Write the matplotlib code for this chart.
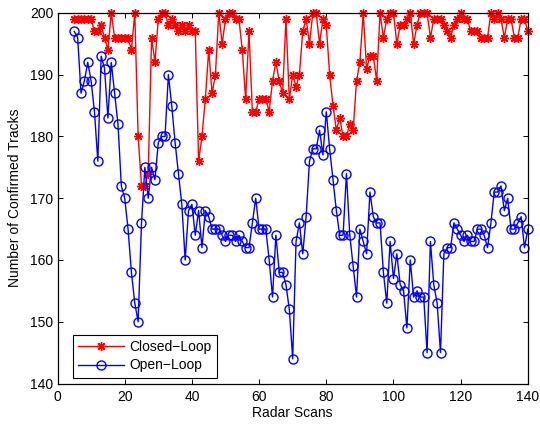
import numpy as np
import matplotlib
matplotlib.use("Agg")
import matplotlib.pyplot as plt

# radar scan index, one sample per scan
scans = np.arange(5, 141)

closed_loop = [
    199, 199, 199, 199, 199, 199, 197, 197, 198, 196,
    194, 200, 196, 196, 196, 196, 196, 194, 200, 180,
    172, 172, 174, 196, 192, 199, 200, 200, 198, 199,
    198, 197, 198, 197, 198, 197, 197, 176, 180, 186,
    194, 187, 190, 200, 195, 199, 200, 200, 199, 199,
    194, 186, 197, 184, 184, 186, 186, 186, 184, 189,
    192, 189, 187, 199, 186, 190, 188, 190, 197, 199,
    195, 200, 200, 195, 199, 198, 190, 185, 181, 183,
    180, 180, 182, 181, 189, 192, 200, 191, 193, 193,
    189, 200, 196, 199, 200, 200, 195, 198, 198, 199,
    200, 195, 198, 200, 200, 200, 196, 199, 199, 199,
    198, 197, 196, 198, 199, 200, 199, 199, 197, 197,
    197, 196, 196, 196, 200, 199, 200, 199, 196, 199,
    199, 196, 196, 199, 199, 197,
]

open_loop = [
    197, 196, 187, 189, 192, 189, 184, 176, 193, 191,
    183, 192, 187, 182, 172, 170, 165, 158, 153, 150,
    166, 175, 170, 175, 173, 179, 180, 180, 190, 185,
    179, 174, 169, 160, 168, 169, 164, 168, 162, 168,
    167, 165, 165, 165, 164, 163, 164, 164, 163, 164,
    163, 162, 162, 166, 170, 165, 165, 165, 160, 154,
    164, 158, 158, 156, 152, 144, 163, 166, 161, 167,
    176, 178, 178, 181, 177, 184, 178, 173, 168, 164,
    164, 174, 164, 159, 154, 165, 163, 161, 171, 167,
    166, 166, 158, 153, 163, 157, 161, 156, 155, 149,
    160, 154, 155, 154, 154, 145, 163, 156, 153, 145,
    161, 162, 162, 166, 165, 164, 163, 164, 163, 163,
    165, 165, 164, 162, 166, 171, 171, 172, 168, 170,
    165, 165, 166, 167, 162, 165,
]

xticks = [0, 20, 40, 60, 80, 100, 120, 140]
yticks = [140, 150, 160, 170, 180, 190, 200]

plt.rcParams['font.family'] = ['Liberation Sans', 'DejaVu Sans']
plt.rcParams['font.size'] = 10

fig = plt.figure(figsize=(5.4, 4.25), dpi=100)
ax = fig.add_axes([0.1065, 0.0976, 0.871, 0.872])

asterisk = (8, 2, 0)
ax.plot(scans, closed_loop, color='red', linewidth=1.0, marker=asterisk,
        markersize=6.5, markeredgewidth=1.0, label='Closed\u2212Loop', clip_on=False)
ax.plot(scans, open_loop, color='blue', linewidth=1.0, marker='o',
        markersize=6.5, markerfacecolor='none', markeredgewidth=1.0,
        label='Open\u2212Loop', clip_on=False)

ax.set_xlim(0, 140)
ax.set_ylim(140, 200)
ax.set_xticks(xticks)
ax.set_yticks(yticks)
ax.tick_params(direction='in', length=3.5, width=0.7, top=True, right=True,
               labelsize=10, colors='black')
ax.tick_params(axis='x', pad=5)
ax.tick_params(axis='y', pad=3)
for side in ax.spines.values():
    side.set_linewidth(0.9)

ax.set_xlabel('Radar Scans', fontsize=10, labelpad=1)
ax.set_ylabel('Number of Confirmed Tracks', fontsize=10, labelpad=6)

leg = ax.legend(loc='lower left', bbox_to_anchor=(0.032, 0.015), borderaxespad=0,
                fontsize=10, fancybox=False, framealpha=1, edgecolor='black',
                handlelength=3.3, borderpad=0.4, labelspacing=0.3,
                handletextpad=0.4)
leg.get_frame().set_linewidth(0.8)

fig.savefig('out.png', dpi=100)
